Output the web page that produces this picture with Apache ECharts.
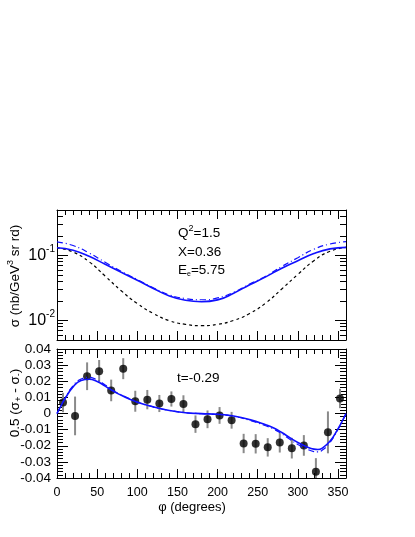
<!DOCTYPE html>
<html>
<head>
<meta charset="utf-8">
<script src="https://cdn.jsdelivr.net/npm/echarts@6.0.0/dist/echarts.min.js"></script>
<style>
html, body { margin: 0; padding: 0; background: #fff; }
#main { width: 415px; height: 537px; }
</style>
</head>
<body>
<div id="main"></div>
<script>
// phi grid for the model curves (degrees)
var phiTop = [0, 20, 40, 60, 80, 100, 120, 140, 160, 180, 200, 220, 240, 260, 280, 300, 320, 340, 360];
// sigma, nb/GeV^3 sr rd
var sigSolid = [0.131, 0.120, 0.097, 0.073, 0.055, 0.0415, 0.031, 0.0238, 0.0204, 0.0194, 0.0207, 0.0262, 0.0354, 0.0468, 0.0636, 0.083, 0.107, 0.126, 0.133];
var sigDashDot = [0.162, 0.142, 0.109, 0.0783, 0.057, 0.0425, 0.0318, 0.0247, 0.0217, 0.0208, 0.0222, 0.0271, 0.0363, 0.048, 0.0675, 0.0923, 0.1247, 0.150, 0.163];
var sigDotted = [0.131, 0.113, 0.080, 0.048, 0.0286, 0.0182, 0.0128, 0.0099, 0.0087, 0.0083, 0.0087, 0.0100, 0.0128, 0.0185, 0.0305, 0.051, 0.083, 0.116, 0.133];

var phiBot = [0, 5, 10, 20, 30, 40, 50, 60, 70, 80, 90, 100, 120, 140, 160, 180, 200, 220, 240, 260, 270, 280, 290, 300, 310, 320, 325, 330, 340, 350, 355, 360];
var asymSolid = [0, 0.0048, 0.0092, 0.0165, 0.0204, 0.0212, 0.0198, 0.0170, 0.0139, 0.0113, 0.0090, 0.0070, 0.0041, 0.0019, 0.0005, -0.0001, -0.0005, -0.0016, -0.0038, -0.0070, -0.0090, -0.0118, -0.0150, -0.0180, -0.0204, -0.0221, -0.0223, -0.0216, -0.0172, -0.0095, -0.0050, 0];
var asymDashDot = [0, 0.0050, 0.0096, 0.0172, 0.0214, 0.0224, 0.0208, 0.0177, 0.0143, 0.0116, 0.0092, 0.0071, 0.0041, 0.0019, 0.0005, -0.0001, -0.0006, -0.0018, -0.0042, -0.0076, -0.0097, -0.0126, -0.0160, -0.0192, -0.0218, -0.0236, -0.0238, -0.0229, -0.0180, -0.0099, -0.0052, 0];

// measured points
var phiData = [7.5, 22.5, 37.5, 52.5, 67.5, 82.5, 97.5, 112.5, 127.5, 142.5, 157.5, 172.5, 187.5, 202.5, 217.5, 232.5, 247.5, 262.5, 277.5, 292.5, 307.5, 322.5, 337.5, 352.5];
var asymData = [0.0068, -0.0015, 0.0231, 0.0262, 0.0143, 0.0278, 0.0076, 0.0086, 0.0062, 0.0090, 0.0059, -0.0066, -0.0036, -0.0012, -0.0042, -0.0186, -0.0188, -0.0210, -0.0180, -0.0215, -0.0198, -0.0362, -0.0117, 0.0093];
var asymErr = [0.0060, 0.0120, 0.0086, 0.0070, 0.0067, 0.0065, 0.0065, 0.0060, 0.0053, 0.0047, 0.0054, 0.0054, 0.0055, 0.0052, 0.0052, 0.0060, 0.0060, 0.0057, 0.0062, 0.0064, 0.0064, 0.0085, 0.0130, 0.0060];

var logMajor = [0.01, 0.1];
var logMinor = [0.005, 0.006, 0.007, 0.008, 0.009, 0.02, 0.03, 0.04, 0.05, 0.06, 0.07, 0.08, 0.09, 0.2, 0.3, 0.4, 0.5];

var FONT = 'Liberation Sans';
var blue = '#1010ff';

function pairs(xs, ys) {
    var out = [];
    for (var i = 0; i < xs.length; i++) out.push([xs[i], ys[i]]);
    return out;
}

// one x axis (major or minor ticks) on a given grid side
function xAx(grid, pos, minor, labels) {
    return {
        type: 'value', gridIndex: grid, position: pos, min: 0, max: 360,
        interval: minor ? 10 : 50,
        axisLine: { show: !minor, onZero: false, lineStyle: { color: '#000', width: 1 } },
        axisTick: { show: true, inside: true, length: minor ? 5 : 9, lineStyle: { color: '#000', width: 1 } },
        axisLabel: {
            show: !!labels, showMaxLabel: false, margin: 8,
            color: '#000', fontFamily: FONT, fontSize: 12.5
        },
        splitLine: { show: false }
    };
}

function yLin(grid, pos, minor, labels) {
    return {
        type: 'value', gridIndex: grid, position: pos, min: -0.04, max: 0.04,
        interval: minor ? 0.002 : 0.01,
        axisLine: { show: !minor, onZero: false, lineStyle: { color: '#000', width: 1 } },
        axisTick: { show: true, inside: true, length: minor ? 6 : 11, lineStyle: { color: '#000', width: 1 } },
        axisLabel: {
            show: !!labels, margin: 6,
            color: '#000', fontFamily: FONT, fontSize: 13.5
        },
        splitLine: { show: false }
    };
}

function yLog(grid, pos, minor, labels) {
    return {
        type: 'log', logBase: 10, gridIndex: grid, position: pos, min: 0.005, max: 0.5,
        axisLine: { show: !minor, onZero: false, lineStyle: { color: '#000', width: 1 } },
        axisTick: { show: true, inside: true, length: minor ? 6 : 11, customValues: minor ? logMinor : logMajor, lineStyle: { color: '#000', width: 1 } },
        axisLabel: {
            show: !!labels, margin: 2, customValues: logMajor,
            color: '#000', fontFamily: FONT,
            formatter: function (v) {
                var e = Math.round(Math.log(v) / Math.LN10);
                return '{b|10}{s|' + e + '}';
            },
            rich: {
                b: { fontFamily: FONT, fontSize: 16, color: '#000' },
                s: { fontFamily: FONT, fontSize: 10, color: '#000', padding: [0, 0, 12, 0] }
            }
        },
        splitLine: { show: false }
    };
}

var chart = echarts.init(document.getElementById('main'), null, { renderer: 'canvas' });

var option = {
    backgroundColor: '#fff',
    animation: false,
    grid: [
        { left: 57, top: 210, width: 289, height: 130 },
        { left: 57, top: 349, width: 289, height: 129 }
    ],
    xAxis: [
        xAx(0, 'bottom', false), xAx(0, 'bottom', true),
        xAx(0, 'top', false), xAx(0, 'top', true),
        xAx(1, 'bottom', false, true), xAx(1, 'bottom', true),
        xAx(1, 'top', false), xAx(1, 'top', true)
    ],
    yAxis: [
        yLog(0, 'left', false, true), yLog(0, 'left', true),
        yLog(0, 'right', false), yLog(0, 'right', true),
        yLin(1, 'left', false, true), yLin(1, 'left', true),
        yLin(1, 'right', false), yLin(1, 'right', true)
    ],
    series: [
        {
            type: 'line', xAxisIndex: 0, yAxisIndex: 0, smooth: true, symbol: 'none',
            data: pairs(phiTop, sigDotted),
            lineStyle: { color: '#000', width: 1.2, type: [3, 3] }
        },
        {
            type: 'line', xAxisIndex: 0, yAxisIndex: 0, smooth: true, symbol: 'none',
            data: pairs(phiTop, sigDashDot),
            lineStyle: { color: blue, width: 1.2, type: [6, 3, 1, 3] }
        },
        {
            type: 'line', xAxisIndex: 0, yAxisIndex: 0, smooth: true, symbol: 'none',
            data: pairs(phiTop, sigSolid),
            lineStyle: { color: blue, width: 1.6 }
        },
        {
            type: 'line', xAxisIndex: 4, yAxisIndex: 4, smooth: true, symbol: 'none',
            data: pairs(phiBot, asymDashDot),
            lineStyle: { color: blue, width: 1.2, type: [6, 3, 1, 3] }
        },
        {
            type: 'line', xAxisIndex: 4, yAxisIndex: 4, smooth: true, symbol: 'none',
            data: pairs(phiBot, asymSolid),
            lineStyle: { color: blue, width: 1.6 }
        },
        {
            // error bars
            type: 'custom', xAxisIndex: 4, yAxisIndex: 4,
            data: phiData.map(function (p, i) { return [p, asymData[i], asymErr[i]]; }),
            renderItem: function (params, api) {
                var x = api.value(0), y = api.value(1), e = api.value(2);
                var hi = Math.min(y + e, 0.04), lo = Math.max(y - e, -0.04);
                var p1 = api.coord([x, hi]);
                var p2 = api.coord([x, lo]);
                return {
                    type: 'line',
                    shape: { x1: p1[0], y1: p1[1], x2: p2[0], y2: p2[1] },
                    style: { stroke: '#8a8a8a', lineWidth: 2 }
                };
            }
        },
        {
            type: 'scatter', xAxisIndex: 4, yAxisIndex: 4, symbol: 'circle', symbolSize: 8,
            data: pairs(phiData, asymData),
            itemStyle: { color: '#000' }
        }
    ],
    graphic: [
        {
            type: 'text', left: 178, top: 224,
            style: { text: 'Q{s|2}=1.5', font: '13.5px ' + FONT, fill: '#000',
                rich: { s: { fontSize: 9, fontFamily: FONT, padding: [0, 0, 9, 0] } } }
        },
        {
            type: 'text', left: 178, top: 245,
            style: { text: 'X=0.36', font: '13.5px ' + FONT, fill: '#000' }
        },
        {
            type: 'text', left: 178, top: 263,
            style: { text: 'E{s|e}=5.75', font: '13.5px ' + FONT, fill: '#000',
                rich: { s: { fontSize: 7, fontFamily: FONT, padding: [8, 0, 0, 0] } } }
        },
        {
            type: 'text', left: 177, top: 371,
            style: { text: 't=-0.29', font: '13.5px ' + FONT, fill: '#000' }
        },
        {
            type: 'text', x: 15, y: 276, rotation: Math.PI / 2,
            style: { text: 'σ (nb/GeV{s|3} sr rd)', font: '13.5px ' + FONT, fill: '#000',
                align: 'center', verticalAlign: 'middle',
                rich: { s: { fontSize: 9, fontFamily: FONT, padding: [0, 0, 9, 0] } } }
        },
        {
            type: 'text', x: 15, y: 403, rotation: Math.PI / 2,
            style: { text: '0.5 (σ{d|+} - σ{d|-})', font: '13.5px ' + FONT, fill: '#000',
                align: 'center', verticalAlign: 'middle',
                rich: { d: { fontSize: 9, fontFamily: FONT, padding: [8, 0, 0, 0] } } }
        },
        {
            type: 'text', x: 192, y: 507,
            style: { text: 'φ (degrees)', font: '13px ' + FONT, fill: '#000',
                align: 'center', verticalAlign: 'middle' }
        }
    ]
};

chart.setOption(option);
</script>
</body>
</html>
